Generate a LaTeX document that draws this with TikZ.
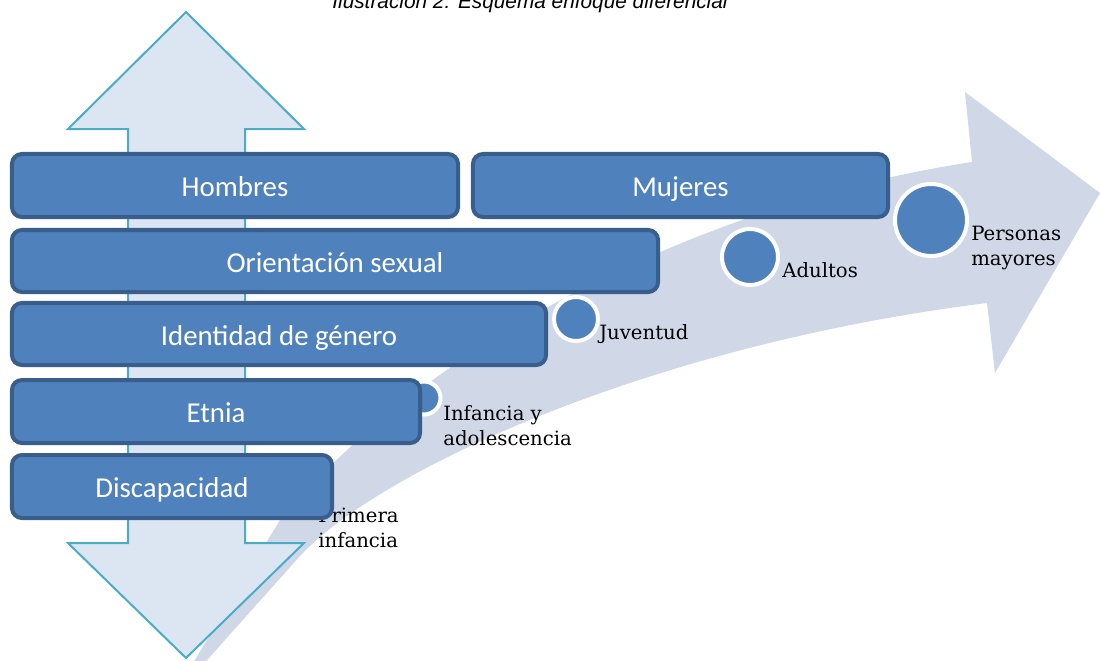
\documentclass[tikz,border=0pt]{standalone}
\usepackage{fontspec}
\setmainfont{DejaVu Serif}
\newfontfamily\boxfont{Carlito}
\newfontfamily\captionfont{Liberation Sans}
\definecolor{boxfill}{RGB}{79,129,189}
\definecolor{boxline}{RGB}{58,94,140}
\definecolor{axisfill}{RGB}{220,230,242}
\definecolor{axisline}{RGB}{75,172,198}
\definecolor{lifeband}{RGB}{208,216,232}
\tikzset{
  catbox/.style={draw=boxline, line width=0.1cm, fill=boxfill, rounded corners=0.25cm,
    text=white, font=\boxfont\fontsize{20.5}{24}\selectfont, inner sep=0pt,
    text height=17pt, text depth=1pt},
  agedot/.style={circle, draw=white, line width=0.1cm, fill=boxfill, inner sep=0pt},
  agelabel/.style={font=\fontsize{14}{17.7}\selectfont, align=left, inner sep=0pt, anchor=base west}
}
\begin{document}
\begin{tikzpicture}[x=0.025cm, y=-0.025cm]
  \useasboundingbox (0,0) rectangle (1100,660);
  % curved arrow of the life course
  \fill[lifeband] (200,668) -- (300,556) .. controls (380,470) and (650,345) .. (987,303)
    -- (995,373) -- (1100,193) -- (965,92) -- (972,162)
    .. controls (720,200) and (440,330) .. (280,520) -- (190,668) -- cycle;
  % vertical double arrow
  \draw[draw=axisline, fill=axisfill, line width=0.05cm] (186,12) -- (304,129) -- (245,129)
    -- (245,543) -- (304,543) -- (186,658) -- (68,543) -- (128,543) -- (128,129)
    -- (68,129) -- cycle;
  % stages
  \node[agedot, minimum size=0.825cm] (infancia) at (424,398) {};
  \node[agedot, minimum size=1.1cm] (juventud) at (576,319) {};
  \node[agedot, minimum size=1.4cm] (adultos) at (750,257) {};
  \node[agedot, minimum size=1.8cm] (mayores) at (931,220) {};
  \node[agelabel] (lprimera) at (318,547) {Primera\\infancia};
  \node[agelabel] (linfancia) at (443,445) {Infancia y\\adolescencia};
  \node[agelabel] (ljuventud) at (599,339) {Juventud};
  \node[agelabel] (ladultos) at (782,277) {Adultos};
  \node[agelabel] (lmayores) at (971,265) {Personas\\mayores};
  % categories
  \node[catbox, minimum width=11.15cm, minimum height=1.575cm] (hombres) at (235,185.5) {Hombres};
  \node[catbox, minimum width=10.375cm, minimum height=1.575cm] (mujeres) at (680.5,185.5) {Mujeres};
  \node[catbox, minimum width=16.15cm, minimum height=1.55cm] (orientacion) at (335,261) {Orientación sexual};
  \node[catbox, minimum width=13.35cm, minimum height=1.55cm] (identidad) at (279,334) {Identidad de género};
  \node[catbox, minimum width=10.2cm, minimum height=1.575cm] (etnia) at (216,411.5) {Etnia};
  \node[catbox, minimum width=8cm, minimum height=1.575cm] (discapacidad) at (172,486.5) {Discapacidad};
  \node[font=\captionfont\itshape\fontsize{14.8}{18}\selectfont, anchor=base, inner sep=0pt] (titulo) at (530,8) {Ilustración 2: Esquema enfoque diferencial};
\end{tikzpicture}
\end{document}
